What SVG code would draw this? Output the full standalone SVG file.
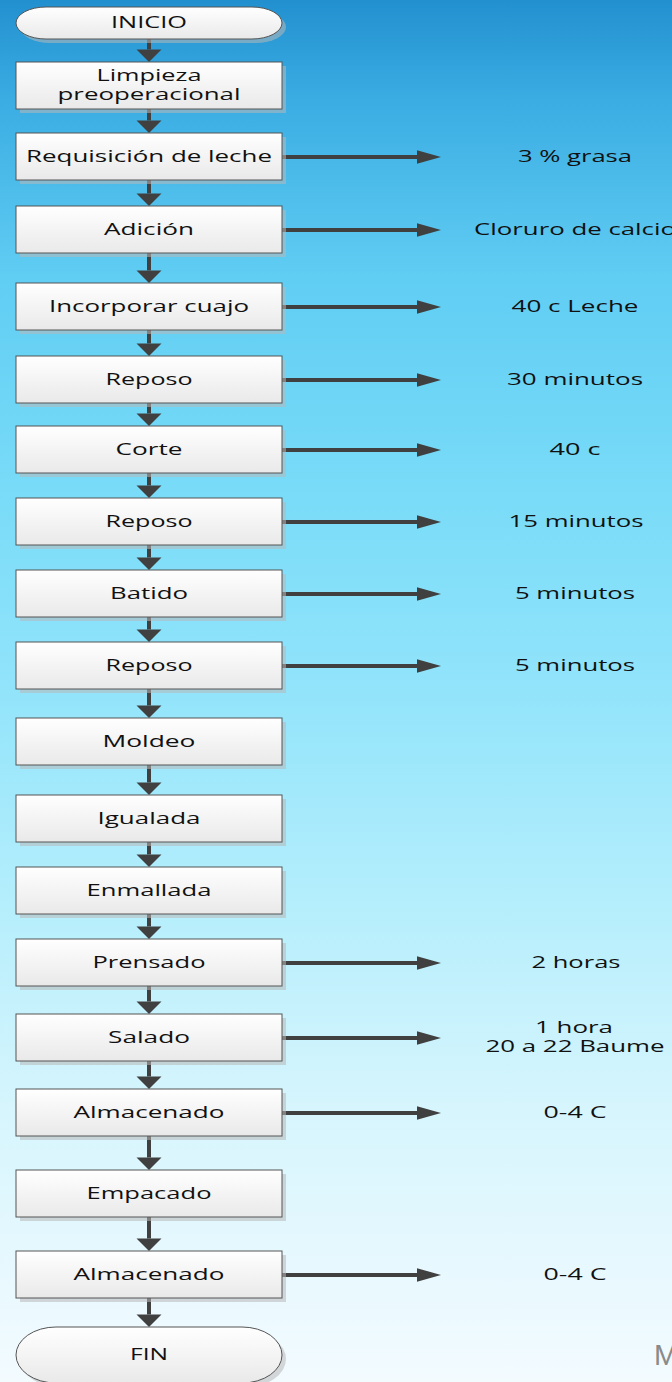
<svg xmlns="http://www.w3.org/2000/svg" width="672" height="1382" viewBox="0 0 672 1382">
<defs>
<linearGradient id="bg" x1="0" y1="0" x2="0" y2="1">
<stop offset="0" stop-color="#2290cf"/>
<stop offset="0.07" stop-color="#3aace2"/>
<stop offset="0.2" stop-color="#60cdf3"/>
<stop offset="0.35" stop-color="#78dbf8"/>
<stop offset="0.5" stop-color="#92e4fb"/>
<stop offset="0.65" stop-color="#b4eefc"/>
<stop offset="0.8" stop-color="#d6f5fd"/>
<stop offset="1" stop-color="#f3fbff"/>
</linearGradient>
<linearGradient id="boxfill" x1="0" y1="0" x2="0" y2="1">
<stop offset="0" stop-color="#ffffff"/>
<stop offset="1" stop-color="#e9e9e9"/>
</linearGradient>
<marker id="hv" markerUnits="userSpaceOnUse" markerWidth="14" markerHeight="26" viewBox="0 -13 13 26" refX="0" refY="0" orient="auto">
<path d="M0,-12.5 L12.5,0 L0,12.5 Z" fill="#404040"/>
</marker>
<marker id="hh" markerUnits="userSpaceOnUse" markerWidth="25" markerHeight="15" viewBox="0 -7 25 14" refX="0" refY="0" orient="auto">
<path d="M0,-6.8 L24,0 L0,6.8 Z" fill="#404040"/>
</marker>
</defs>
<style>
.box{fill:url(#boxfill);stroke:#555;stroke-width:1}
.shd{fill:#b8b8b8;opacity:0.55}
.t{font-family:"Open Sans","DejaVu Sans",sans-serif;font-size:15.5px;fill:#111;text-anchor:middle}
.r{font-family:"Open Sans","DejaVu Sans",sans-serif;font-size:15.5px;fill:#111;text-anchor:middle}
.v{stroke:#404040;stroke-width:4;fill:none;marker-end:url(#hv)}
.h{stroke:#404040;stroke-width:4;fill:none;marker-end:url(#hh)}
</style>
<rect x="0" y="0" width="672" height="1382" fill="url(#bg)"/>

<g id="connectors">
<line class="v" x1="149" y1="39" x2="149" y2="49.5"/>
<line class="v" x1="149" y1="109" x2="149" y2="120.5"/>
<line class="v" x1="149" y1="180" x2="149" y2="193.5"/>
<line class="v" x1="149" y1="253" x2="149" y2="270.5"/>
<line class="v" x1="149" y1="330" x2="149" y2="343.5"/>
<line class="v" x1="149" y1="403" x2="149" y2="413.5"/>
<line class="v" x1="149" y1="473" x2="149" y2="485.5"/>
<line class="v" x1="149" y1="545" x2="149" y2="557.5"/>
<line class="v" x1="149" y1="617" x2="149" y2="629.5"/>
<line class="v" x1="149" y1="689" x2="149" y2="705.5"/>
<line class="v" x1="149" y1="765" x2="149" y2="782.5"/>
<line class="v" x1="149" y1="842" x2="149" y2="854.5"/>
<line class="v" x1="149" y1="914" x2="149" y2="926.5"/>
<line class="v" x1="149" y1="986" x2="149" y2="1001.5"/>
<line class="v" x1="149" y1="1061" x2="149" y2="1076.5"/>
<line class="v" x1="149" y1="1136" x2="149" y2="1157.5"/>
<line class="v" x1="149" y1="1217" x2="149" y2="1238.5"/>
<line class="v" x1="149" y1="1298" x2="149" y2="1314.5"/>
<line class="h" x1="282" y1="157" x2="417" y2="157"/>
<line class="h" x1="282" y1="230" x2="417" y2="230"/>
<line class="h" x1="282" y1="307" x2="417" y2="307"/>
<line class="h" x1="282" y1="380" x2="417" y2="380"/>
<line class="h" x1="282" y1="450" x2="417" y2="450"/>
<line class="h" x1="282" y1="522" x2="417" y2="522"/>
<line class="h" x1="282" y1="594" x2="417" y2="594"/>
<line class="h" x1="282" y1="666" x2="417" y2="666"/>
<line class="h" x1="282" y1="963" x2="417" y2="963"/>
<line class="h" x1="282" y1="1038" x2="417" y2="1038"/>
<line class="h" x1="282" y1="1113" x2="417" y2="1113"/>
<line class="h" x1="282" y1="1275" x2="417" y2="1275"/>
</g>

<g id="n-inicio">
<path class="shd" d="M50,11 H256 A30,16 0 0 1 256,43 H50 A30,16 0 0 1 50,11 Z"/>
<path class="box" d="M46,7 H252 A30,16 0 0 1 252,39 H46 A30,16 0 0 1 46,7 Z"/>
<text class="t" x="149" y="28" font-size="14" textLength="76" lengthAdjust="spacingAndGlyphs">INICIO</text>
</g>
<g id="n-limpieza">
<rect class="shd" x="20" y="66" width="266" height="47"/>
<rect class="box" x="16" y="62" width="266" height="47"/>
<text class="t" x="149" y="81" textLength="105" lengthAdjust="spacingAndGlyphs">Limpieza</text>
<text class="t" x="149" y="100" textLength="183" lengthAdjust="spacingAndGlyphs">preoperacional</text>
</g>
<g id="n-requisicion">
<rect class="shd" x="20" y="137" width="266" height="47"/>
<rect class="box" x="16" y="133" width="266" height="47"/>
<text class="t" x="149" y="162" textLength="246" lengthAdjust="spacingAndGlyphs">Requisición de leche</text>
</g>
<g id="n-adicion">
<rect class="shd" x="20" y="210" width="266" height="47"/>
<rect class="box" x="16" y="206" width="266" height="47"/>
<text class="t" x="149" y="235" textLength="90" lengthAdjust="spacingAndGlyphs">Adición</text>
</g>
<g id="n-incorporar">
<rect class="shd" x="20" y="287" width="266" height="47"/>
<rect class="box" x="16" y="283" width="266" height="47"/>
<text class="t" x="149" y="312" textLength="200" lengthAdjust="spacingAndGlyphs">Incorporar cuajo</text>
</g>
<g id="n-reposo1">
<rect class="shd" x="20" y="360" width="266" height="47"/>
<rect class="box" x="16" y="356" width="266" height="47"/>
<text class="t" x="149" y="385" textLength="87" lengthAdjust="spacingAndGlyphs">Reposo</text>
</g>
<g id="n-corte">
<rect class="shd" x="20" y="430" width="266" height="47"/>
<rect class="box" x="16" y="426" width="266" height="47"/>
<text class="t" x="149" y="455" textLength="67" lengthAdjust="spacingAndGlyphs">Corte</text>
</g>
<g id="n-reposo2">
<rect class="shd" x="20" y="502" width="266" height="47"/>
<rect class="box" x="16" y="498" width="266" height="47"/>
<text class="t" x="149" y="527" textLength="87" lengthAdjust="spacingAndGlyphs">Reposo</text>
</g>
<g id="n-batido">
<rect class="shd" x="20" y="574" width="266" height="47"/>
<rect class="box" x="16" y="570" width="266" height="47"/>
<text class="t" x="149" y="599" textLength="78" lengthAdjust="spacingAndGlyphs">Batido</text>
</g>
<g id="n-reposo3">
<rect class="shd" x="20" y="646" width="266" height="47"/>
<rect class="box" x="16" y="642" width="266" height="47"/>
<text class="t" x="149" y="671" textLength="87" lengthAdjust="spacingAndGlyphs">Reposo</text>
</g>
<g id="n-moldeo">
<rect class="shd" x="20" y="722" width="266" height="47"/>
<rect class="box" x="16" y="718" width="266" height="47"/>
<text class="t" x="149" y="747" textLength="93" lengthAdjust="spacingAndGlyphs">Moldeo</text>
</g>
<g id="n-igualada">
<rect class="shd" x="20" y="799" width="266" height="47"/>
<rect class="box" x="16" y="795" width="266" height="47"/>
<text class="t" x="149" y="824" textLength="103" lengthAdjust="spacingAndGlyphs">Igualada</text>
</g>
<g id="n-enmallada">
<rect class="shd" x="20" y="871" width="266" height="47"/>
<rect class="box" x="16" y="867" width="266" height="47"/>
<text class="t" x="149" y="896" textLength="125" lengthAdjust="spacingAndGlyphs">Enmallada</text>
</g>
<g id="n-prensado">
<rect class="shd" x="20" y="943" width="266" height="47"/>
<rect class="box" x="16" y="939" width="266" height="47"/>
<text class="t" x="149" y="968" textLength="113" lengthAdjust="spacingAndGlyphs">Prensado</text>
</g>
<g id="n-salado">
<rect class="shd" x="20" y="1018" width="266" height="47"/>
<rect class="box" x="16" y="1014" width="266" height="47"/>
<text class="t" x="149" y="1043" textLength="82" lengthAdjust="spacingAndGlyphs">Salado</text>
</g>
<g id="n-almacenado1">
<rect class="shd" x="20" y="1093" width="266" height="47"/>
<rect class="box" x="16" y="1089" width="266" height="47"/>
<text class="t" x="149" y="1118" textLength="151" lengthAdjust="spacingAndGlyphs">Almacenado</text>
</g>
<g id="n-empacado">
<rect class="shd" x="20" y="1174" width="266" height="47"/>
<rect class="box" x="16" y="1170" width="266" height="47"/>
<text class="t" x="149" y="1199" textLength="125" lengthAdjust="spacingAndGlyphs">Empacado</text>
</g>
<g id="n-almacenado2">
<rect class="shd" x="20" y="1255" width="266" height="47"/>
<rect class="box" x="16" y="1251" width="266" height="47"/>
<text class="t" x="149" y="1280" textLength="151" lengthAdjust="spacingAndGlyphs">Almacenado</text>
</g>
<g id="n-fin">
<path class="shd" d="M60,1331 H246 A40,28 0 0 1 246,1387 H60 A40,28 0 0 1 60,1331 Z"/>
<path class="box" d="M56,1327 H242 A40,28 0 0 1 242,1383 H56 A40,28 0 0 1 56,1327 Z"/>
<text class="t" x="149" y="1360" font-size="14" textLength="38" lengthAdjust="spacingAndGlyphs">FIN</text>
</g>

<g id="labels">
<text class="r" x="575" y="162" textLength="114" lengthAdjust="spacingAndGlyphs">3 % grasa</text>
<text class="r" x="575" y="235" textLength="202" lengthAdjust="spacingAndGlyphs">Cloruro de calcio</text>
<text class="r" x="575" y="312" textLength="127" lengthAdjust="spacingAndGlyphs">40 c Leche</text>
<text class="r" x="575" y="385" textLength="136" lengthAdjust="spacingAndGlyphs">30 minutos</text>
<text class="r" x="575" y="455" textLength="51" lengthAdjust="spacingAndGlyphs">40 c</text>
<text class="r" x="576" y="527" textLength="135" lengthAdjust="spacingAndGlyphs">15 minutos</text>
<text class="r" x="575" y="599" textLength="120" lengthAdjust="spacingAndGlyphs">5 minutos</text>
<text class="r" x="575" y="671" textLength="120" lengthAdjust="spacingAndGlyphs">5 minutos</text>
<text class="r" x="576" y="968" textLength="89" lengthAdjust="spacingAndGlyphs">2 horas</text>
<text class="r" x="574" y="1033" textLength="78" lengthAdjust="spacingAndGlyphs">1 hora</text>
<text class="r" x="575" y="1052" textLength="179" lengthAdjust="spacingAndGlyphs">20 a 22 Baume</text>
<text class="r" x="575" y="1118" textLength="63" lengthAdjust="spacingAndGlyphs">0-4 C</text>
<text class="r" x="575" y="1280" textLength="63" lengthAdjust="spacingAndGlyphs">0-4 C</text>
<text x="654" y="1365" font-family="'Liberation Sans',Arial,sans-serif" font-size="29" fill="#8a8a8a">M</text>
</g>
</svg>
